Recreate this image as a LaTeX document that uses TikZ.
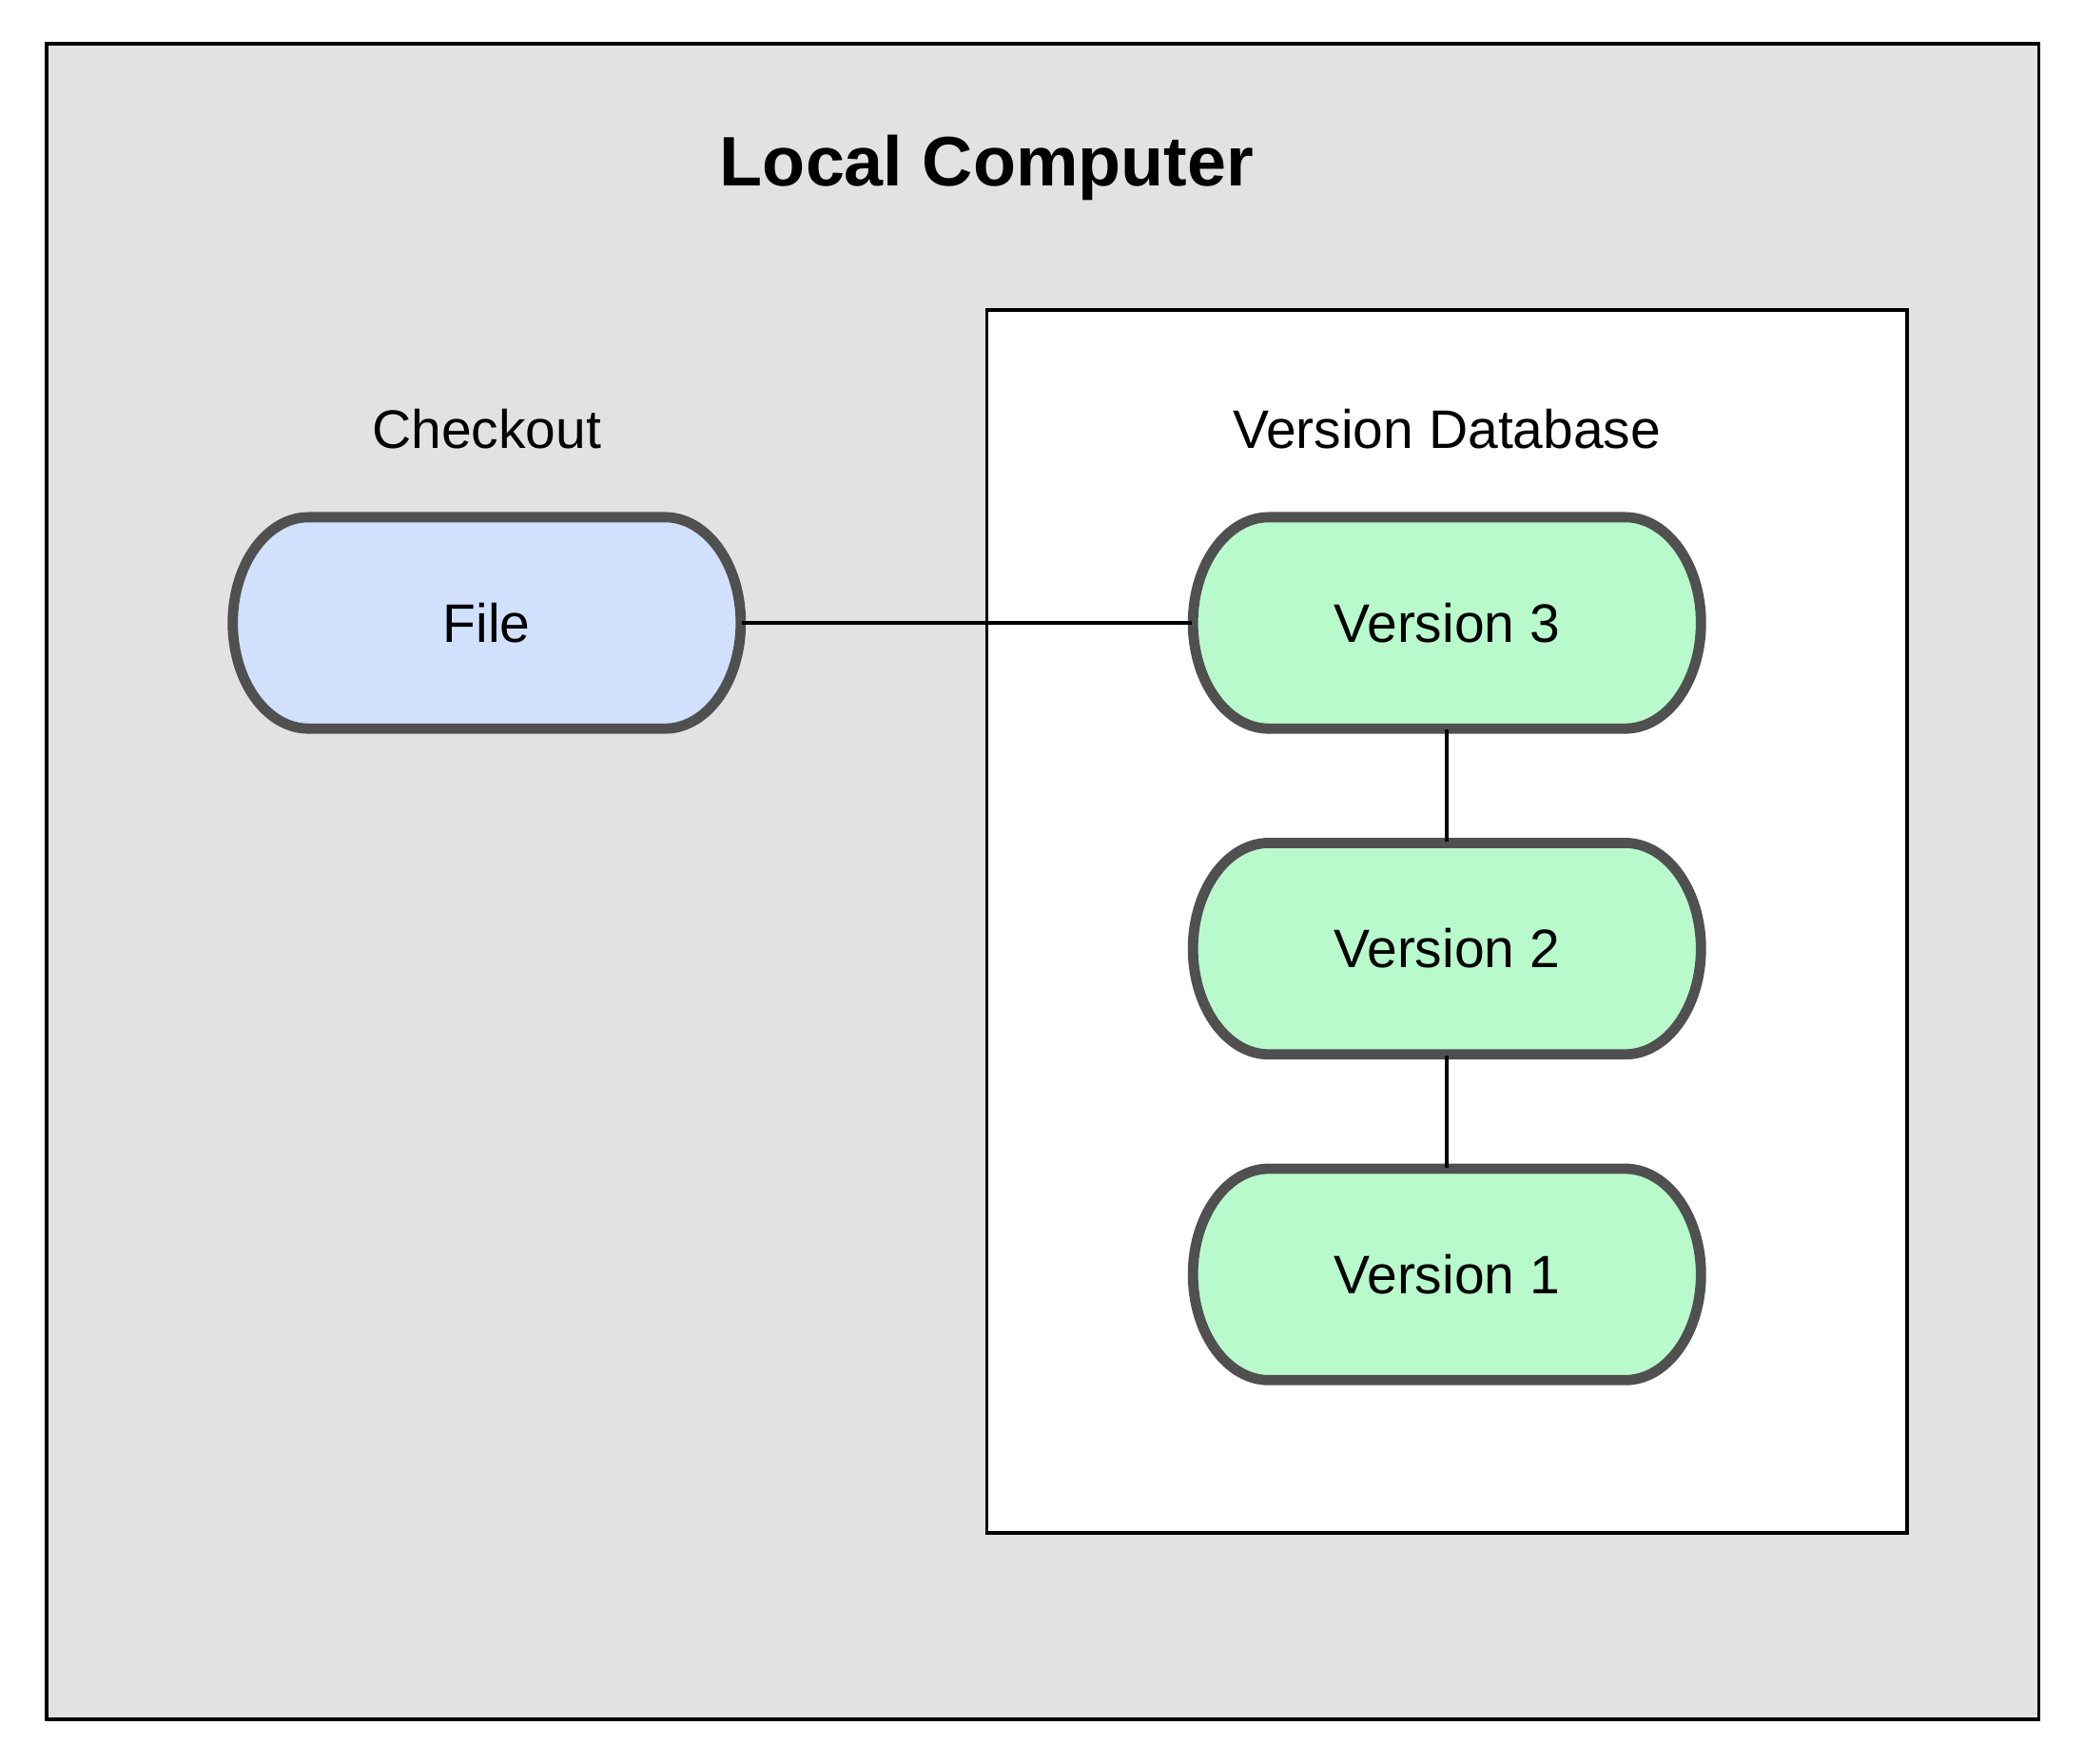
\documentclass[tikz,border=0pt]{standalone}
\usepackage{fontspec}
\setmainfont{Liberation Sans}
\usepackage{tikz}
\usetikzlibrary{calc}

\definecolor{boxgray}{HTML}{E2E2E2}
\definecolor{pillline}{HTML}{505050}
\definecolor{fileblue}{HTML}{D0E0FD}
\definecolor{versgreen}{HTML}{B8FACC}

\tikzset{
  pill/.style={inner sep=0, minimum width=3.82cm, minimum height=1.59cm,
    font=\fontsize{11.6}{14}\selectfont},
  pilledge/.style={draw=pillline, line width=2.2pt},
  boxtitle/.style={font=\fontsize{11.6}{14}\selectfont},
  link/.style={line width=0.8pt}
}

% pill shaped node: name, centre, fill, text
\newcommand{\pill}[4]{%
  \draw[pilledge, fill=#3] ($(#2)+(-1.34,0.795)$) -- ++(2.68,0)
    arc[start angle=90, end angle=-90, x radius=0.57, y radius=0.795]
    -- ++(-2.68,0)
    arc[start angle=270, end angle=90, x radius=0.57, y radius=0.795] -- cycle;
  \node[pill] (#1) at (#2) {#4};
}

\begin{document}
\begin{tikzpicture}
  \useasboundingbox (0, 0) rectangle (15.67, -13.26);

  \node[draw, fill=boxgray, line width=0.8pt, inner sep=0,
    minimum width=14.98cm, minimum height=12.6cm]
    (computer) at (7.84, -6.63) {};

  \node[draw, fill=white, line width=0.8pt, inner sep=0,
    minimum width=6.92cm, minimum height=9.2cm]
    (database) at (10.88, -6.93) {};

  \node[font=\fontsize{15}{18}\selectfont\bfseries]
    (title) at (7.42, -1.26) {Local Computer};

  \node[boxtitle] (checkout) at (3.66, -3.23) {Checkout};
  \node[boxtitle] (dbtitle) at (10.88, -3.23) {Version Database};

  \pill{file}{3.66, -4.685}{fileblue}{File}
  \pill{v3}{10.88, -4.685}{versgreen}{Version 3}
  \pill{v2}{10.88, -7.135}{versgreen}{Version 2}
  \pill{v1}{10.88, -9.585}{versgreen}{Version 1}

  \draw[link]
    (file.east) edge (v3.west)
    (v3.south)  edge (v2.north)
    (v2.south)  edge (v1.north);
\end{tikzpicture}
\end{document}
